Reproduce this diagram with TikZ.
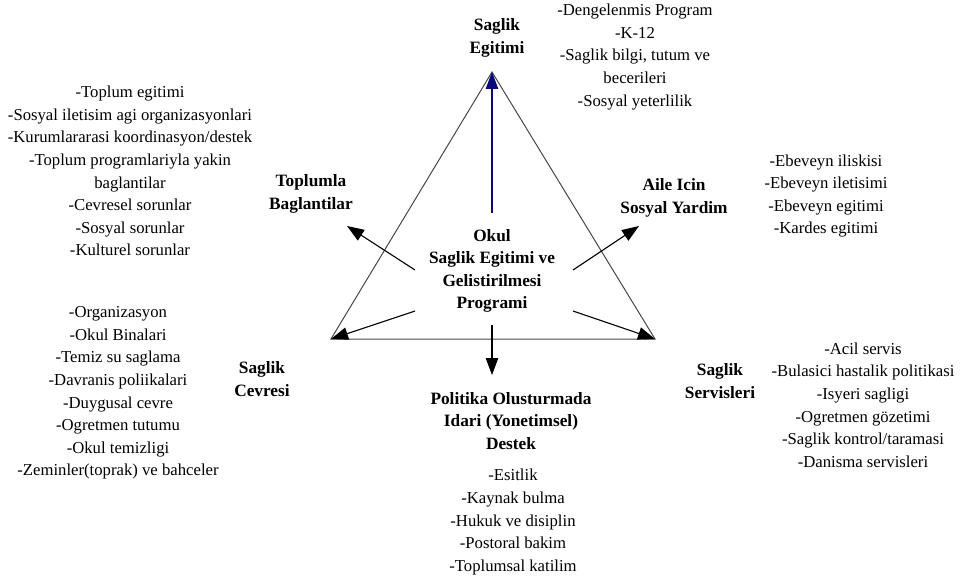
\documentclass[tikz,border=0pt]{standalone}
\usepackage{fontspec}
\setmainfont{Liberation Serif}
\usetikzlibrary{arrows.meta}
\definecolor{navyline}{RGB}{10,10,120}
\definecolor{triline}{RGB}{70,70,70}
\begin{document}
\begin{tikzpicture}[x=1pt,y=-1pt,
  txt/.style={align=center,inner sep=0pt,font=\fontsize{16.7}{22.6}\selectfont},
  head/.style={txt,font=\fontsize{17.3}{22.6}\selectfont\bfseries},
  tri/.style={draw=triline,line width=1pt},
  arr/.style={draw=black,line width=1.1pt,-{Triangle[length=17pt,width=12.5pt]}},
  barr/.style={draw=navyline,line width=1.1pt,-{Triangle[length=17pt,width=12.5pt]}}]
\useasboundingbox (0,0) rectangle (968,583);
% triangle corners
\coordinate (A) at (492,72);
\coordinate (BL) at (331,339);
\coordinate (BR) at (655,339);
\draw[tri] (A) -- (BL) -- (BR) -- cycle;
% centre
\node[head] (center) at (492,271) {Okul\\Saglik Egitimi ve\\Gelistirilmesi\\Programi};
% arrow start/end coordinates
\coordinate (sUp) at (492,213);
\coordinate (sUL) at (415,270);
\coordinate (tUL) at (347,226);
\coordinate (sUR) at (573,270);
\coordinate (tUR) at (639,226);
\coordinate (sDL) at (415,311);
\coordinate (sDR) at (573,311);
\coordinate (sDn) at (492,325);
\coordinate (tDn) at (492,375);
\draw[barr] (sUp) -- (A);
\draw[arr] (sUL) -- (tUL);
\draw[arr] (sUR) -- (tUR);
\draw[arr] (sDL) -- (BL);
\draw[arr] (sDR) -- (BR);
\draw[arr] (sDn) -- (tDn);
% headings
\node[head] (egitim) at (497,38) {Saglik\\Egitimi};
\node[head] (toplum) at (311,194) {Toplumla\\Baglantilar};
\node[head] (aile) at (674,198) {Aile Icin\\Sosyal Yardim};
\node[head] (cevre) at (262,379) {Saglik\\Cevresi};
\node[head] (servis) at (720,381) {Saglik\\Servisleri};
\node[head] (politika) at (511,421) {Politika Olusturmada\\Idari (Yonetimsel)\\Destek};
% lists
\node[txt] (l1) at (635,57) {-Dengelenmis Program\\-K-12\\-Saglik bilgi, tutum ve\\becerileri\\-Sosyal yeterlilik};
\node[txt] (l2) at (130,171) {-Toplum egitimi\\-Sosyal iletisim agi organizasyonlari\\-Kurumlararasi koordinasyon/destek\\-Toplum programlariyla yakin\\baglantilar\\-Cevresel sorunlar\\-Sosyal sorunlar\\-Kulturel sorunlar};
\node[txt] (l3) at (826,196) {-Ebeveyn iliskisi\\-Ebeveyn iletisimi\\-Ebeveyn egitimi\\-Kardes egitimi};
\node[txt] (l4) at (118,393) {-Organizasyon\\-Okul Binalari\\-Temiz su saglama\\-Davranis poliikalari\\-Duygusal cevre\\-Ogretmen tutumu\\-Okul temizligi\\-Zeminler(toprak) ve bahceler};
\node[txt] (l5) at (863,405) {-Acil servis\\-Bulasici hastalik politikasi\\-Isyeri sagligi\\-Ogretmen gözetimi\\-Saglik kontrol/taramasi\\-Danisma servisleri};
\node[txt] (l6) at (513,522) {-Esitlik\\-Kaynak bulma\\-Hukuk ve disiplin\\-Postoral bakim\\-Toplumsal katilim};
\end{tikzpicture}
\end{document}
